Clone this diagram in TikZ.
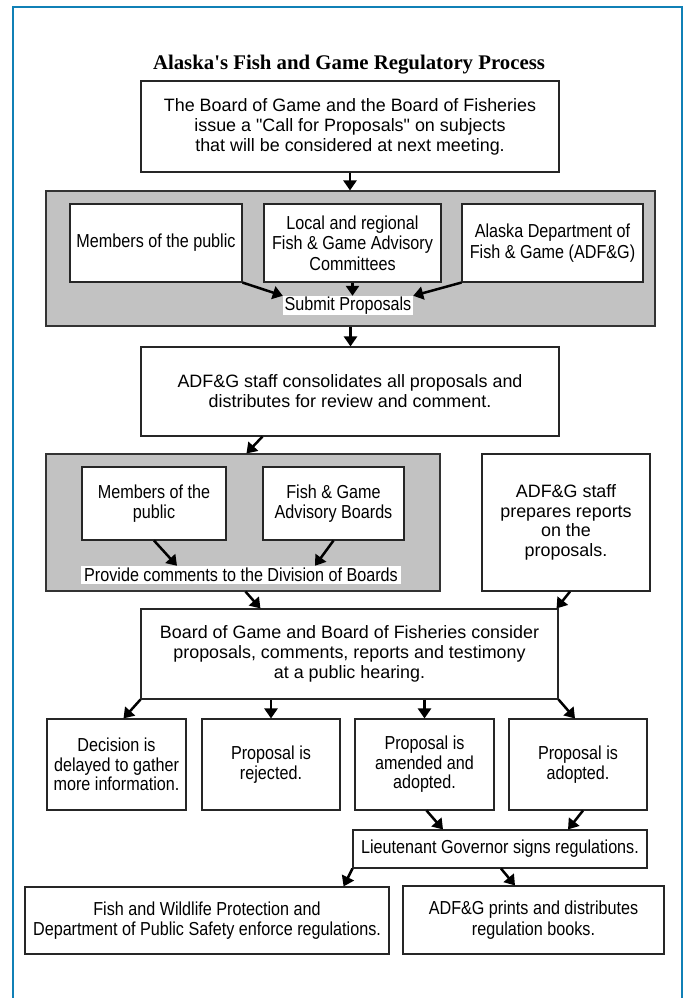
\documentclass[tikz,border=0pt]{standalone}
\usepackage{fontspec}
\setmainfont{Liberation Sans}
\newfontfamily\regf{Liberation Sans}
\newfontfamily\condf{Liberation Sans}[FakeStretch=0.86]
\newfontfamily\titlef{Liberation Serif}[Ligatures=TeXOff]
\usetikzlibrary{arrows.meta,calc}
\definecolor{frameblue}{RGB}{16,128,182}
\newcommand\regtext{\regf\fontsize{17.9}{20}\selectfont}
\newcommand\condtext{\condf\fontsize{18.8}{20.5}\selectfont}
\tikzset{
  bx/.style={draw=black!85, line width=1.1pt, fill=white, inner sep=0pt, align=center, font=\regtext},
  cbx/.style={bx, font=\condtext},
  shade/.style={draw=black!80, line width=1.1pt, fill=black!24, inner sep=0pt},
  lbl/.style={fill=white, inner sep=0pt, font=\condtext},
  arr/.style={line width=2.5pt, -{Triangle[length=10pt,width=13pt]}},
}
\begin{document}
\begin{tikzpicture}[x=1pt,y=-1pt]
\useasboundingbox (0,0) rectangle (686,998);
% frame
\draw[frameblue, line width=1.8pt] (13,998) -- (13,7) -- (682,7) -- (682,998);
% title
\node[font={\titlef\bfseries\fontsize{20.8}{24}\selectfont}] (title) at (349,65) {Alaska's Fish and Game Regulatory Process};
% box 1
\node[bx, minimum width=418pt, minimum height=91pt] (b1) at (350,126.5)
  {The Board of Game and the Board of Fisheries\\issue a "Call for Proposals" on subjects\\that will be considered at next meeting.};
% shaded 1
\node[shade, minimum width=609pt, minimum height=135pt] (s1) at (350.5,258.5) {};
\node[cbx, minimum width=172pt, minimum height=78pt] (A) at (156,243) {Members of the public};
\node[cbx, minimum width=177pt, minimum height=78pt] (B) at (352.5,243) {Local and regional\\Fish \& Game Advisory\\Committees};
\node[cbx, minimum width=181pt, minimum height=78pt] (C) at (552.5,243) {Alaska Department of\\Fish \& Game (ADF\&G)};
\node[lbl, minimum width=130pt, minimum height=19pt] (sub) at (348,305.5) {Submit Proposals};
% box 2
\node[bx, minimum width=418pt, minimum height=89pt] (b2) at (350,391.5)
  {ADF\&G staff consolidates all proposals and\\distributes for review and comment.};
% shaded 2
\node[shade, minimum width=394pt, minimum height=137pt] (s2) at (243,522.5) {};
\node[cbx, minimum width=144pt, minimum height=73pt] (D) at (154,503.5) {Members of the\\public};
\node[cbx, minimum width=141pt, minimum height=73pt] (E) at (333.5,503.5) {Fish \& Game\\Advisory Boards};
\node[lbl, minimum width=320pt, minimum height=18pt] (prov) at (241,575) {Provide comments to the Division of Boards};
\node[bx, minimum width=168pt, minimum height=137pt, font={\regf\fontsize{17.9}{19.5}\selectfont}] (F) at (566,522.5)
  {ADF\&G staff\\prepares reports\\on the\\proposals.};
% box 3
\node[bx, minimum width=417pt, minimum height=90pt] (b3) at (349.5,654)
  {Board of Game and Board of Fisheries consider\\proposals, comments, reports and testimony\\at a public hearing.};
% outcomes
\node[cbx, minimum width=139pt, minimum height=91pt, font={\condf\fontsize{18.8}{19.5}\selectfont}] (dec) at (116.5,764.5) {Decision is\\delayed to gather\\more information.};
\node[cbx, minimum width=138pt, minimum height=91pt] (rej) at (271,764.5) {Proposal is\\rejected.};
\node[cbx, minimum width=139pt, minimum height=91pt, font={\condf\fontsize{18.8}{19.5}\selectfont}] (amd) at (424.5,764.5) {Proposal is\\amended and\\adopted.};
\node[cbx, minimum width=138pt, minimum height=91pt] (adp) at (578,764.5) {Proposal is\\adopted.};
\node[cbx, minimum width=294pt, minimum height=38pt] (lg) at (500,849) {Lieutenant Governor signs regulations.};
\node[cbx, minimum width=364pt, minimum height=67pt] (enf) at (207,920.5) {Fish and Wildlife Protection and\\Department of Public Safety enforce regulations.};
\node[cbx, minimum width=261pt, minimum height=68pt] (prt) at (533.5,920) {ADF\&G prints and distributes\\regulation books.};
% connectors
\draw[arr] (b1.south) -- (b1.south |- s1.north);
\draw[arr] (A.south east) -- (sub.north west);
\draw[arr] (B.south) -- (B.south |- sub.north);
\draw[arr] (C.south west) -- (sub.north east);
\draw[arr] (s1.south) -- (s1.south |- b2.north);
\draw[arr] ([xshift=122pt]b2.south west) -- ([xshift=201pt]s2.north west);
\draw[arr] (D.south) -- ([xshift=-64pt]prov.north);
\draw[arr] (E.south) -- ([xshift=74pt]prov.north);
\draw[arr] ([xshift=200pt]s2.south west) -- ([xshift=120pt]b3.north west);
\draw[arr] ([xshift=4pt]F.south) -- ([xshift=-2pt]b3.north east);
\draw[arr] (b3.south west) -- ([xshift=7pt]dec.north);
\draw[arr] (rej.north |- b3.south) -- (rej.north);
\draw[arr] (amd.north |- b3.south) -- (amd.north);
\draw[arr] (b3.south east) -- ([xshift=-3pt]adp.north);
\draw[arr] ([xshift=2pt]amd.south) -- ([xshift=-57pt]lg.north);
\draw[arr] ([xshift=5pt]adp.south) -- ([xshift=68pt]lg.north);
\draw[arr] (lg.south west) -- ([xshift=-46pt]enf.north east);
\draw[arr] ([xshift=1pt]lg.south) -- ([xshift=-18.5pt]prt.north);
\end{tikzpicture}
\end{document}
